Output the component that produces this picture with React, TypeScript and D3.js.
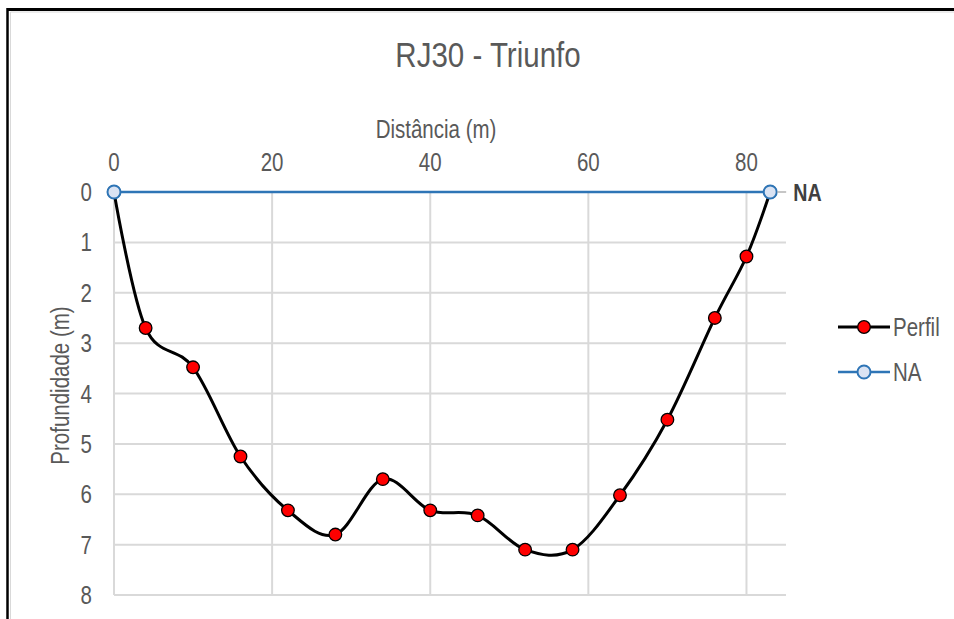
import React from "react";
import * as d3 from "d3";

const distances = [0, 4, 10, 16, 22, 28, 34, 40, 46, 52, 58, 64, 70, 76, 80, 83];
const depths = [0, 2.7, 3.48, 5.25, 6.32, 6.8, 5.7, 6.32, 6.42, 7.1, 7.1, 6.02, 4.52, 2.5, 1.28, 0];
const naDistances = [0, 83];
const naDepths = [0, 0];
const xTicks = [0, 20, 40, 60, 80];
const yTicks = [0, 1, 2, 3, 4, 5, 6, 7, 8];

const FONT = "'Liberation Sans', Arial, sans-serif";
const GRAY = "#595959";
const NARROW = 0.82;

type NTProps = {
  x: number;
  y: number;
  size: number;
  anchor?: "start" | "middle" | "end";
  rotate?: number;
  fill?: string;
  weight?: string;
  children: React.ReactNode;
};

function NText({ x, y, size, anchor = "start", rotate = 0, fill = GRAY, weight = "normal", children }: NTProps) {
  return (
    <text
      transform={`translate(${x},${y}) rotate(${rotate}) scale(${NARROW},1)`}
      textAnchor={anchor}
      fontSize={size}
      fill={fill}
      fontWeight={weight}
      fontFamily={FONT}
    >
      {children}
    </text>
  );
}

export default function App() {
  const x = d3.scaleLinear().domain([0, 85]).range([114, 786]);
  const y = d3.scaleLinear().domain([0, 8]).range([192, 595]);

  const perfil = distances.map((d, i) => [d, depths[i]] as [number, number]);
  const na = naDistances.map((d, i) => [d, naDepths[i]] as [number, number]);

  const smooth = d3
    .line<[number, number]>()
    .x((d) => x(d[0]))
    .y((d) => y(d[1]))
    .curve(d3.curveCardinal.tension(0));
  const straight = d3
    .line<[number, number]>()
    .x((d) => x(d[0]))
    .y((d) => y(d[1]));

  const naEnd = na[na.length - 1];
  const plotMidX = (x(0) + x(85)) / 2;
  const plotMidY = (y(0) + y(8)) / 2;

  return (
    <svg
      width={954}
      height={619}
      style={{ position: "absolute", left: 0, top: 0, background: "#fff" }}
    >
      <rect x={0} y={0} width={954} height={619} fill="#fff" />
      {/* frame */}
      <line x1={10.5} y1={12} x2={954} y2={12} stroke="#d9d9d9" strokeWidth={1} />
      <line x1={10.5} y1={12} x2={10.5} y2={619} stroke="#d9d9d9" strokeWidth={1} />
      <line x1={7.5} y1={9.5} x2={954} y2={9.5} stroke="#000" strokeWidth={3} />
      <line x1={7.5} y1={8} x2={7.5} y2={619} stroke="#000" strokeWidth={2.5} />

      {/* title */}
      <NText x={488} y={67} size={36} anchor="middle">
        RJ30 - Triunfo
      </NText>

      {/* gridlines */}
      {yTicks.map((t) => (
        <line key={"gy" + t} x1={x(0)} x2={x(85)} y1={y(t)} y2={y(t)} stroke="#d9d9d9" strokeWidth={2} />
      ))}
      {xTicks.map((t) => (
        <line key={"gx" + t} x1={x(t)} x2={x(t)} y1={y(0)} y2={y(8)} stroke="#d9d9d9" strokeWidth={2} />
      ))}

      {/* x axis (top) */}
      <NText x={plotMidX - 14} y={138} size={25} anchor="middle">
        Distância (m)
      </NText>
      {xTicks.map((t) => (
        <NText key={"xt" + t} x={x(t)} y={171} size={25} anchor="middle">
          {t}
        </NText>
      ))}

      {/* y axis */}
      {yTicks.map((t) => (
        <NText key={"yt" + t} x={92} y={y(t) + 9} size={25} anchor="end">
          {t}
        </NText>
      ))}
      <NText x={69} y={plotMidY - 8} size={25} anchor="middle" rotate={-90}>
        Profundidade (m)
      </NText>

      {/* NA line */}
      <path d={straight(na) || ""} fill="none" stroke="#2e75b6" strokeWidth={2.5} />

      {/* Perfil line */}
      <path d={smooth(perfil) || ""} fill="none" stroke="#000" strokeWidth={3} />
      {perfil.map((p, i) => (
        <circle key={"pm" + i} cx={x(p[0])} cy={y(p[1])} r={6.3} fill="#ff0000" stroke="#000" strokeWidth={1.3} />
      ))}

      {/* NA markers */}
      {na.map((p, i) => (
        <circle key={"nm" + i} cx={x(p[0])} cy={y(p[1])} r={6.5} fill="#dae3f3" stroke="#2e75b6" strokeWidth={2} />
      ))}

      {/* NA data label */}
      <line x1={x(naEnd[0]) + 7} x2={x(naEnd[0]) + 16} y1={y(naEnd[1])} y2={y(naEnd[1])} stroke="#bfbfbf" strokeWidth={1.5} />
      <NText x={x(naEnd[0]) + 23} y={y(naEnd[1]) + 9} size={24} weight="bold" fill="#404040">
        NA
      </NText>

      {/* legend */}
      <g>
        <line x1={838} x2={890} y1={327} y2={327} stroke="#000" strokeWidth={3} />
        <circle cx={864} cy={327} r={6.3} fill="#ff0000" stroke="#000" strokeWidth={1.3} />
        <NText x={893} y={336} size={25}>
          Perfil
        </NText>
        <line x1={838} x2={890} y1={372} y2={372} stroke="#2e75b6" strokeWidth={2.5} />
        <circle cx={864} cy={372} r={6.5} fill="#dae3f3" stroke="#2e75b6" strokeWidth={2} />
        <NText x={893} y={381} size={25}>
          NA
        </NText>
      </g>
    </svg>
  );
}
